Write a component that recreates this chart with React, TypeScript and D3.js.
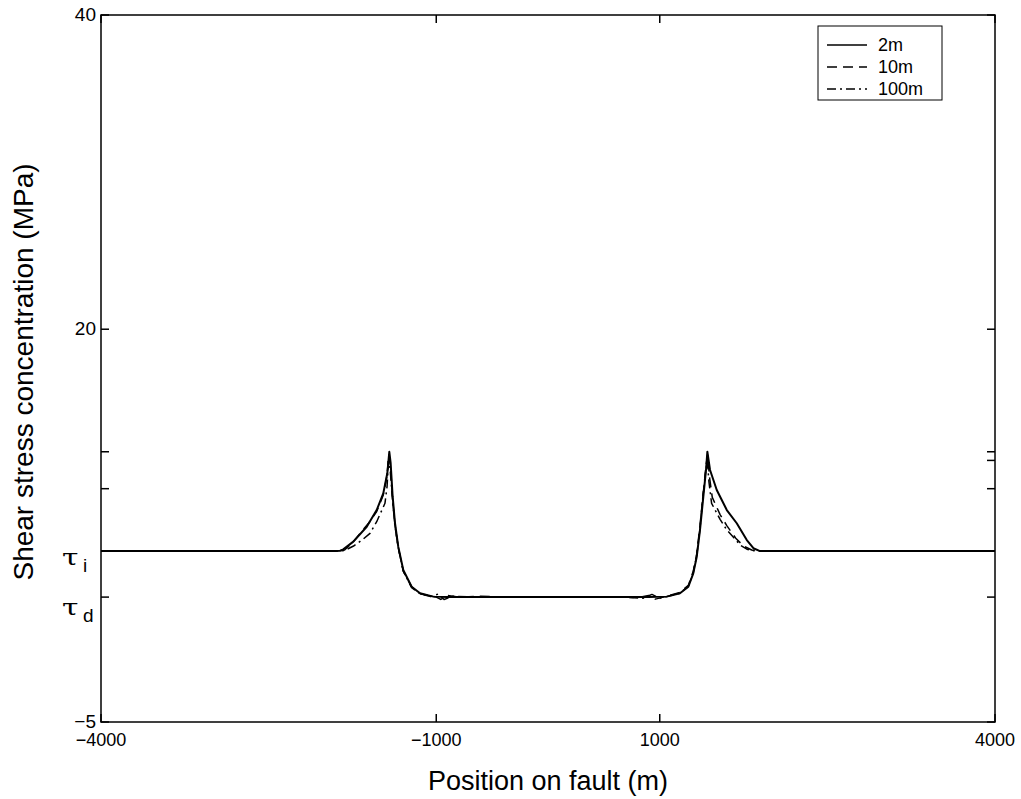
import { useEffect, useRef } from 'react';
import * as d3 from 'd3';

type Pt = [number, number];

const xTickValues = [-4000, -1000, 1000, 4000];
const xTickLabels = ['\u22124000', '\u22121000', '1000', '4000'];
const yTickValues = [40, 20, -5];
const yTickLabels = ['40', '20', '\u22125'];

// reference stress levels on the y axis
const tauI = 5.88;
const tauD = 2.95;
const tauValues = [tauI, tauD];
const tauSubs = ['i', 'd'];

// extra unlabeled ticks
const yMinorLeft = [12.2, 9.85];
const yMinorRight = [12.2, 11.65, 9.85];

const seriesNames = ['2m', '10m', '100m'];
const seriesDash = ['none', '10,6', '9,4,2,4'];
const seriesWidth = [2, 1.5, 1.5];

const series2m: Pt[] = [
  [-4000, 5.88], [-1900, 5.88], [-1860, 5.9], [-1832, 5.99], [-1742, 6.48], [-1622, 7.43],
  [-1533, 8.49], [-1474, 9.55], [-1438, 10.83], [-1420, 12.2], [-1408, 11.47], [-1390, 9.34],
  [-1369, 7.65], [-1340, 6.16], [-1295, 4.67], [-1220, 3.61], [-1145, 3.19], [-1026, 2.98],
  [-900, 2.95], [0, 2.95], [900, 2.95], [1062, 2.98], [1181, 3.19], [1256, 3.61], [1300, 4.46],
  [1331, 5.52], [1360, 7.22], [1390, 9.34], [1414, 11.04], [1426, 12.2], [1450, 11.04],
  [1510, 9.77], [1600, 8.49], [1689, 7.65], [1779, 6.58], [1838, 6.06], [1897, 5.88], [4000, 5.88],
];

const series10m: Pt[] = [
  [-4000, 5.88], [-1900, 5.88], [-1820, 5.95], [-1745, 6.45], [-1682, 7.0], [-1600, 7.7],
  [-1533, 8.4], [-1474, 9.45], [-1440, 10.7], [-1425, 12.0], [-1410, 11.3], [-1392, 9.3],
  [-1370, 7.6], [-1340, 6.1], [-1295, 4.6], [-1220, 3.6], [-1140, 3.15], [-1060, 3.05],
  [-1000, 2.95], [-960, 2.8], [-900, 3.05], [-800, 2.95], [-600, 3.0], [-300, 2.95], [0, 2.97],
  [300, 2.95], [600, 2.98], [800, 2.92], [900, 3.05], [960, 2.82], [1062, 3.0], [1181, 3.25],
  [1256, 3.7], [1300, 4.6], [1331, 5.7], [1360, 7.5], [1390, 9.6], [1414, 11.3], [1428, 12.0],
  [1445, 10.6], [1470, 9.3], [1540, 8.2], [1600, 7.5], [1680, 6.7], [1750, 6.2], [1823, 5.95],
  [1880, 5.88], [4000, 5.88],
];

const series100m: Pt[] = [
  [-4000, 5.88], [-1880, 5.88], [-1820, 5.92], [-1740, 6.2], [-1660, 6.6], [-1593, 7.01],
  [-1533, 7.75], [-1459, 8.92], [-1440, 10.0], [-1428, 11.6], [-1412, 11.0], [-1392, 9.2],
  [-1370, 7.5], [-1340, 6.1], [-1295, 4.6], [-1220, 3.55], [-1140, 3.15], [-1050, 2.98],
  [-980, 3.15], [-930, 2.8], [-850, 3.0], [-600, 2.95], [-200, 2.97], [200, 2.95], [600, 2.97],
  [850, 2.88], [930, 3.12], [1000, 2.88], [1062, 2.98], [1181, 3.2], [1256, 3.65], [1300, 4.5],
  [1331, 5.6], [1360, 7.3], [1388, 9.5], [1412, 11.0], [1426, 11.6], [1440, 10.3], [1464, 8.92],
  [1540, 7.9], [1600, 7.22], [1680, 6.6], [1719, 6.26], [1780, 6.0], [1823, 5.92], [1870, 5.88],
  [4000, 5.88],
];

const allSeries = [series2m, series10m, series100m];

const width = 1021;
const height = 799;

export default function App() {
  const svgRef = useRef<SVGSVGElement>(null);

  useEffect(() => {
    if (!svgRef.current) return;
    const svg = d3.select(svgRef.current);
    svg.selectAll('*').remove();

    const margin = { top: 15, right: 26, bottom: 77, left: 101 };
    const x = d3.scaleLinear().domain([-4000, 4000]).range([margin.left, width - margin.right]);
    const y = d3.scaleLinear().domain([-5, 40]).range([height - margin.bottom, margin.top]);
    const font = 'Liberation Sans, Arial, Helvetica, sans-serif';
    const tick = 8;

    // Curves
    const line = d3.line<Pt>().x(d => x(d[0])).y(d => y(d[1])).curve(d3.curveLinear);
    allSeries.forEach((s, i) => {
      svg.append('path')
        .attr('d', line(s) || '')
        .attr('fill', 'none')
        .attr('stroke', '#000')
        .attr('stroke-width', seriesWidth[i])
        .attr('stroke-dasharray', seriesDash[i])
        .attr('stroke-linejoin', 'round');
    });

    // Frame
    const [x0, x1] = x.range();
    const [y0, y1] = y.range();
    svg.append('rect')
      .attr('x', x0).attr('y', y1)
      .attr('width', x1 - x0).attr('height', y0 - y1)
      .attr('fill', 'none').attr('stroke', '#000').attr('stroke-width', 1.5);

    const ticks = svg.append('g').attr('stroke', '#000').attr('stroke-width', 1.5);

    // X ticks top and bottom
    xTickValues.forEach(v => {
      ticks.append('line').attr('x1', x(v)).attr('x2', x(v)).attr('y1', y0).attr('y2', y0 - tick);
      ticks.append('line').attr('x1', x(v)).attr('x2', x(v)).attr('y1', y1).attr('y2', y1 + tick);
    });

    // Y ticks
    const leftTicks = [...yTickValues, ...tauValues, ...yMinorLeft];
    const rightTicks = [...yTickValues, ...tauValues, ...yMinorRight];
    leftTicks.forEach(v => {
      ticks.append('line').attr('x1', x0).attr('x2', x0 + tick).attr('y1', y(v)).attr('y2', y(v));
    });
    rightTicks.forEach(v => {
      ticks.append('line').attr('x1', x1).attr('x2', x1 - tick).attr('y1', y(v)).attr('y2', y(v));
    });

    // X tick labels
    svg.append('g').selectAll('text')
      .data(xTickValues)
      .join('text')
      .attr('x', d => x(d))
      .attr('y', y0 + 19)
      .attr('text-anchor', 'middle')
      .attr('dominant-baseline', 'middle')
      .style('font-family', font)
      .style('font-size', '18px')
      .text((d, i) => xTickLabels[i]);

    // Y tick labels
    svg.append('g').selectAll('text')
      .data(yTickValues)
      .join('text')
      .attr('x', x0 - 5)
      .attr('y', d => y(d) + 1)
      .attr('text-anchor', 'end')
      .attr('dominant-baseline', 'middle')
      .style('font-family', font)
      .style('font-size', '19px')
      .text((d, i) => yTickLabels[i]);

    // tau labels
    tauValues.forEach((v, i) => {
      const cy = y(v) + 6 + i * 4;
      svg.append('text')
        .attr('transform', `translate(62,${cy}) scale(1.35,1)`)
        .attr('dominant-baseline', 'central')
        .style('font-family', 'DejaVu Serif, Liberation Serif, serif')
        .style('font-size', '22px')
        .text('\u03c4');
      svg.append('text')
        .attr('x', 83)
        .attr('y', cy + 8)
        .attr('dominant-baseline', 'central')
        .style('font-family', font)
        .style('font-size', '19px')
        .text(tauSubs[i]);
    });

    // Axis titles
    svg.append('text')
      .attr('x', (x0 + x1) / 2)
      .attr('y', height - 9)
      .attr('text-anchor', 'middle')
      .style('font-family', font)
      .style('font-size', '27px')
      .text('Position on fault (m)');

    svg.append('text')
      .attr('transform', `translate(33,372) rotate(-90)`)
      .attr('text-anchor', 'middle')
      .style('font-family', font)
      .style('font-size', '28px')
      .text('Shear stress concentration (MPa)');

    // Legend
    const lg = { left: 818, right: 942, top: 26, rowH: 22 };
    svg.append('rect')
      .attr('x', lg.left).attr('y', lg.top)
      .attr('width', lg.right - lg.left)
      .attr('height', lg.rowH * seriesNames.length + 8)
      .attr('fill', '#fff').attr('stroke', '#000').attr('stroke-width', 1);
    seriesNames.forEach((name, i) => {
      const cy = lg.top + 19 + i * lg.rowH;
      svg.append('line')
        .attr('x1', lg.left + 9).attr('x2', lg.left + 49)
        .attr('y1', cy).attr('y2', cy)
        .attr('stroke', '#000')
        .attr('stroke-width', 1.5)
        .attr('stroke-dasharray', seriesDash[i]);
      svg.append('text')
        .attr('x', lg.left + 60)
        .attr('y', cy + 1)
        .attr('dominant-baseline', 'middle')
        .style('font-family', font)
        .style('font-size', '18px')
        .text(name);
    });
  }, []);

  return (
    <svg
      ref={svgRef}
      width={width}
      height={height}
      style={{ position: 'absolute', left: 0, top: 0, background: '#fff' }}
    />
  );
}
